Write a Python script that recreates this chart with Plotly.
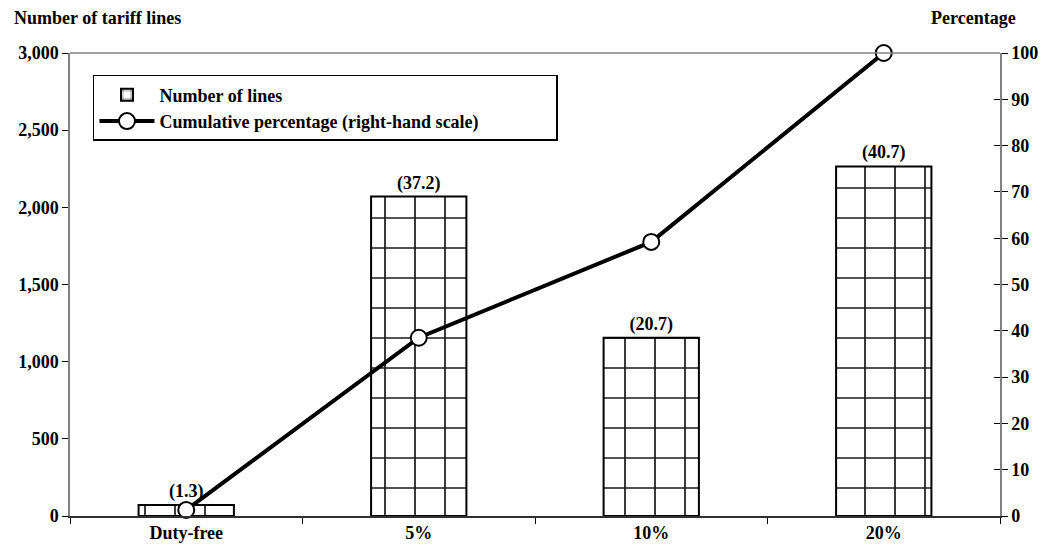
import plotly.graph_objects as go

categories = ["Duty-free", "5%", "10%", "20%"]
num_lines = [72, 2070, 1155, 2265]
share_labels = ["(1.3)", "(37.2)", "(20.7)", "(40.7)"]
cumulative_pct = [1.3, 38.5, 59.2, 100.0]

FONT = "Liberation Serif"
AXIS_GRAY = "#808080"
FS = 18
NB = "\u00a0"

fig = go.Figure()
fig.add_trace(go.Bar(
    x=categories, y=num_lines, name="<b>Number of lines</b>",
    text=["<b>%s</b>" % s for s in share_labels], textposition="outside",
    textfont=dict(family=FONT, size=FS, color="black"),
    width=0.41, cliponaxis=False,
    marker=dict(color="white", line=dict(color="black", width=2),
                pattern=dict(shape="+", size=30, solidity=0.11,
                             fgcolor="#1a1a1a", bgcolor="white", fillmode="replace")),
))
fig.add_trace(go.Scatter(
    x=categories, y=cumulative_pct, yaxis="y2", mode="lines+markers",
    name="<b>Cumulative percentage (right-hand scale)</b>" + NB * 16,
    line=dict(color="black", width=4),
    marker=dict(symbol="circle", size=16, color="white", line=dict(color="black", width=2)),
    cliponaxis=False,
))
# invisible trace so the crossing tick marks on the right-hand scale get drawn
fig.add_trace(go.Scatter(
    x=categories, y=cumulative_pct, yaxis="y3", mode="markers",
    marker=dict(opacity=0), showlegend=False, hoverinfo="skip",
))

tick_font = dict(family=FONT, size=FS, color="black")
fig.update_layout(
    width=1040, height=547,
    margin=dict(l=62, r=48, t=45, b=39, autoexpand=False),
    plot_bgcolor="white", paper_bgcolor="white",
    font=dict(family=FONT, size=FS, color="black"),
    showlegend=True,
    legend=dict(x=0.0247, y=0.9525, xanchor="left", yanchor="top",
                bordercolor="black", borderwidth=1.5, bgcolor="white",
                font=dict(family=FONT, size=FS, color="black"),
                tracegroupgap=0, itemwidth=55),
    xaxis=dict(showline=True, linecolor="#303030", linewidth=1.5, automargin=False,
               ticks="outside", ticklen=6, tickcolor="black", tickson="boundaries",
               showgrid=False, tickfont=tick_font,
               tickprefix="<b>", ticksuffix="</b>"),
    yaxis=dict(range=[0, 3000], dtick=500, tickformat=",", showline=True, automargin=False,
               linecolor=AXIS_GRAY, linewidth=1.5, ticks="outside", ticklen=6,
               tickcolor="black", showgrid=False, zeroline=False,
               tickprefix="<b>", ticksuffix="</b>", tickfont=tick_font),
    yaxis2=dict(range=[0, 100], dtick=10, overlaying="y", side="right", automargin=False,
                showline=True, linecolor=AXIS_GRAY, linewidth=1.5, ticks="outside",
                ticklen=6, tickcolor="black", showgrid=False, zeroline=False,
                tickprefix="<b>", ticksuffix="</b>", tickfont=tick_font),
    yaxis3=dict(range=[0, 100], dtick=10, overlaying="y", side="right", automargin=False,
                showline=False, ticks="inside", ticklen=6, tickcolor="black",
                showticklabels=False, showgrid=False, zeroline=False),
    shapes=[dict(type="line", xref="paper", yref="paper", x0=0, x1=1, y0=1, y1=1,
                 line=dict(color=AXIS_GRAY, width=1.5))],
    annotations=[
        dict(text="<b>Number of tariff lines</b>", xref="paper", yref="paper",
             x=-0.0624, y=1.0, yshift=35, xanchor="left", yanchor="middle",
             showarrow=False, font=dict(family=FONT, size=FS)),
        dict(text="<b>Percentage</b>", xref="paper", yref="paper",
             x=1.019, y=1.0, yshift=35, xanchor="right", yanchor="middle",
             showarrow=False, font=dict(family=FONT, size=FS)),
    ],
)

fig.write_html("out.html")
